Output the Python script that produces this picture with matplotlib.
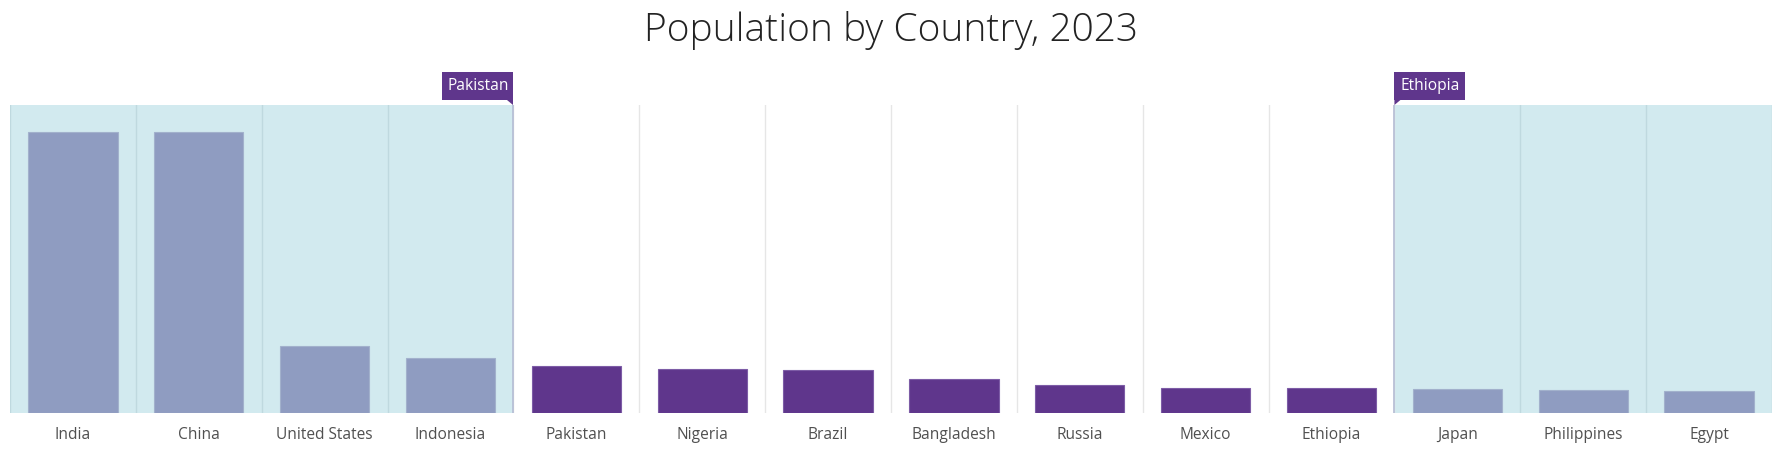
import matplotlib
matplotlib.use("Agg")
import matplotlib.pyplot as plt
import matplotlib.transforms as mtransforms
from matplotlib.patches import Polygon

# population 2023, millions
countries = ["India", "China", "United States", "Indonesia", "Pakistan", "Nigeria",
             "Brazil", "Bangladesh", "Russia", "Mexico", "Ethiopia", "Japan",
             "Philippines", "Egypt"]
population = [1428.6, 1425.7, 340.0, 277.5, 240.5, 223.8, 216.4, 173.0,
              144.4, 128.5, 126.5, 123.3, 117.3, 112.7]
sel_start = "Pakistan"
sel_end = "Ethiopia"

purple = "#5f368c"
muted = "#8f9cc1"
band = "#d2eaef"

plt.rcParams['font.family'] = ['Open Sans', 'Lato', 'DejaVu Sans']

fig = plt.figure(figsize=(17.83, 4.54), dpi=100)
ax = fig.add_axes([10 / 1783, 1 - 413 / 454, 1762 / 1783, 308 / 454])

i0 = countries.index(sel_start)
i1 = countries.index(sel_end)
n = len(countries)
x = list(range(n))

# shaded (unselected) ranges
ax.axvspan(-0.5, i0 - 0.5, color=band, lw=0, zorder=0)
ax.axvspan(i1 + 0.5, n - 0.5, color=band, lw=0, zorder=0)

# category separators
for k in range(n + 1):
    pos = k - 0.5
    inside = pos < i0 - 0.5 or pos > i1 + 0.5 or k == 0 or k == n
    ax.axvline(pos, color="#bfd9df" if inside else "#e6e6e6", lw=1, zorder=1)
for pos in (i0 - 0.5, i1 + 0.5):
    ax.axvline(pos, color="#b4bcd4", lw=1.2, zorder=1)

colors = [purple if i0 <= i <= i1 else muted for i in x]
edges = ["#7d5ca6" if i0 <= i <= i1 else "#a2b1cc" for i in x]
ax.bar(x, population, width=0.71, color=colors, edgecolor=edges, lw=0.8, zorder=2)

ax.set_xlim(-0.5, n - 0.5)
ax.set_ylim(0, 1565)
ax.set_xticks(x)
ax.set_xticklabels(countries, fontsize=11.2, color="#505050")
ax.tick_params(axis="x", length=0, pad=10)
ax.set_yticks([])
for s in ax.spines.values():
    s.set_visible(False)

# range selector flags
blend = mtransforms.blended_transform_factory(ax.transData, ax.transAxes)


def flag(xpos, label, side):
    tr = mtransforms.Affine2D() + mtransforms.ScaledTranslation(xpos, 1.0, blend)
    w, h, g, t = 71, 28, 5, 6
    if side == "left":
        box = [(-w, g), (0, g), (0, g + h), (-w, g + h)]
        tri = [(-t, g), (0, g), (0, 0)]
        cx = -w / 2
    else:
        box = [(0, g), (w, g), (w, g + h), (0, g + h)]
        tri = [(0, g), (t, g), (0, 0)]
        cx = w / 2
    for pts in (box, tri):
        p = Polygon(pts, closed=True, facecolor=purple, edgecolor="none",
                    transform=tr, clip_on=False, zorder=5)
        ax.add_patch(p)
    ax.text(cx, g + h / 2, label, transform=tr, color="white", fontsize=11.2,
            ha="center", va="center", zorder=6)


flag(i0 - 0.5, sel_start, "left")
flag(i1 + 0.5, sel_end, "right")

fig.text(0.5, 1 - 30 / 454, "Population by Country, 2023", ha="center",
         va="center", fontsize=28, fontweight="light", color="#222222")

fig.savefig("out.png", dpi=100)
